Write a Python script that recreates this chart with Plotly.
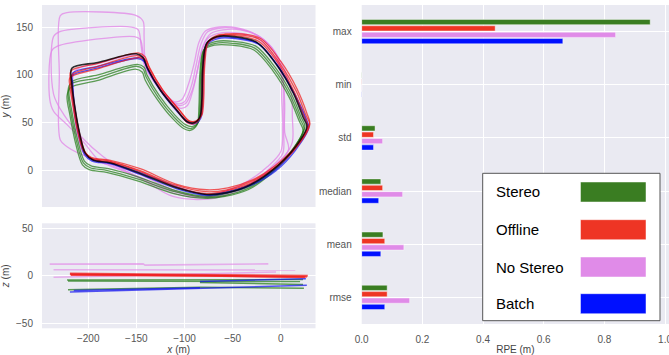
import plotly.graph_objects as go

W, H = 669, 355

# ---------------- trajectory data (x, y in metres), one list per lap ----------------
black_x = [[-217, -190, -150, -143, -139, -125, -108, -97, -90, -84, -82, -81, -77, -66, -49, -25, -4, 13, 23, 27, 13, -8, -32, -56, -77, -108, -146, -177, -195, -203, -209, -214, -217, -217]]
black_y = [[107, 113, 122, 118, 108, 84, 63, 51, 50, 56, 74, 108, 133, 140, 140, 134, 110, 81, 56, 46, 22, 1, -15, -23, -25, -18, -3, 8, 11, 18, 39, 67, 91, 107]]

red_x = [
    [-218, -190, -148, -141, -137, -123, -106, -96, -89, -83, -81, -80, -76, -64, -47, -22, -1, 16, 26, 30, 16, -5, -30, -56, -78, -110, -146, -178, -197, -204, -210, -215, -218, -218],
    [-217, -190, -149, -142, -138, -124, -107, -97, -90, -84, -82, -81, -77, -65, -48, -23, -2, 14, 24, 28, 14, -7, -31, -56, -77, -109, -146, -177, -196, -203, -209, -214, -217, -217],
    [-219, -191, -147, -140, -136, -122, -105, -95, -88, -82, -80, -79, -75, -64, -46, -21, 0, 17, 27, 30, 15, -6, -30, -55, -77, -109, -146, -178, -197, -205, -211, -216, -219, -219],
]
red_y = [
    [104, 112, 123, 119, 109, 85, 64, 52, 51, 57, 75, 109, 134, 142, 142, 137, 112, 83, 58, 48, 24, 4, -11, -20, -22, -15, 0, 10, 13, 20, 40, 67, 90, 104],
    [100, 109, 120, 117, 107, 83, 62, 50, 49, 55, 73, 107, 132, 140, 141, 135, 111, 82, 57, 47, 22, 2, -13, -21, -24, -17, -1, 9, 12, 19, 39, 66, 88, 100],
    [97, 106, 118, 115, 106, 83, 63, 52, 52, 58, 76, 110, 135, 141, 143, 138, 114, 85, 60, 49, 25, 5, -10, -18, -20, -14, 2, 11, 14, 21, 41, 68, 88, 97],
]

blue_x = [
    [-216, -190, -148, -142, -138, -124, -107, -97, -90, -84, -82, -81, -77, -66, -48, -24, -3, 14, 25, 28, 14, -6, -31, -56, -77, -108, -146, -177, -195, -203, -209, -214, -216, -216],
    [-217, -191, -149, -142, -138, -124, -107, -96, -89, -83, -81, -80, -76, -65, -48, -23, -2, 15, 26, 29, 15, -5, -30, -55, -76, -108, -146, -177, -196, -204, -210, -215, -217, -217],
]
blue_y = [
    [102, 109, 118, 115, 106, 83, 62, 51, 50, 56, 74, 108, 133, 139, 139, 133, 109, 80, 55, 46, 22, 1, -14, -22, -25, -17, -2, 8, 11, 18, 38, 66, 90, 102],
    [99, 107, 117, 114, 105, 82, 61, 50, 49, 55, 73, 107, 132, 138, 138, 132, 108, 79, 55, 45, 21, 0, -15, -23, -26, -19, -4, 7, 10, 17, 37, 65, 88, 99],
]

green_x = [
    [-219, -190, -150, -143, -140, -127, -111, -100, -93, -86, -84, -83, -79, -68, -50, -27, -7, 10, 20, 24, 11, -9, -33, -58, -78, -110, -148, -180, -198, -205, -212, -218, -221, -219],
    [-218, -191, -151, -144, -141, -128, -112, -101, -94, -87, -85, -84, -80, -69, -51, -28, -8, 9, 19, 23, 10, -10, -34, -58, -78, -111, -148, -180, -199, -206, -213, -219, -222, -218],
    [-217, -190, -149, -142, -139, -126, -110, -99, -92, -85, -83, -82, -78, -67, -49, -26, -6, 11, 21, 25, 12, -8, -32, -57, -77, -109, -147, -179, -197, -204, -211, -217, -220, -217],
]
green_y = [
    [90, 97, 109, 106, 98, 76, 56, 46, 44, 50, 70, 105, 128, 133, 133, 128, 106, 78, 54, 44, 20, -1, -18, -26, -28, -22, -9, 0, 3, 8, 30, 60, 80, 90],
    [87, 94, 106, 103, 95, 74, 54, 44, 42, 48, 68, 103, 126, 131, 131, 126, 104, 76, 52, 42, 18, -3, -20, -27, -29, -24, -11, -2, 1, 6, 28, 58, 78, 87],
    [93, 100, 111, 108, 100, 78, 58, 48, 46, 52, 72, 107, 130, 135, 135, 130, 108, 80, 56, 46, 22, 1, -16, -24, -27, -21, -7, 2, 5, 10, 32, 62, 82, 93],
]

violet_x = [
    [-214, -190, -150, -143, -139, -127, -114, -106, -99, -92, -87, -82, -76, -66, -48, -24, -6, 2, 4, 4, 8, -8, -32, -57, -80, -110, -146, -178, -198, -206, -212, -215, -214],
    [-240, -238, -232, -152, -146, -143, -141, -128, -114, -104, -97, -91, -86, -81, -73, -60, -42, -22, -5, 6, 11, 12, 12, 4, -10, -32, -56, -78, -110, -146, -170, -188, -205, -222, -236, -240],
    [-236, -236, -230, -155, -148, -145, -142, -130, -116, -108, -100, -93, -88, -83, -76, -62, -44, -24, -6, 2, 3, 3, 2, -12, -34, -58, -80, -112, -146, -165, -185, -205, -225, -236],
    [-229, -230, -229, -222, -150, -143, -142, -141, -133, -120, -111, -103, -96, -90, -85, -78, -64, -45, -26, -8, 0, 1, 2, 0, -14, -36, -60, -84, -112, -146, -180, -200, -222, -229],
]
violet_y = [
    [104, 112, 121, 118, 108, 88, 73, 68, 70, 84, 103, 125, 138, 143, 144, 138, 118, 95, 70, 40, 22, 4, -14, -24, -28, -22, -7, 6, 12, 20, 42, 72, 104],
    [75, 125, 130, 140, 137, 122, 108, 88, 72, 65, 68, 85, 108, 130, 143, 147, 147, 140, 122, 100, 80, 55, 30, 15, 2, -14, -24, -28, -24, -8, 2, 10, 30, 48, 62, 75],
    [80, 140, 145, 150, 147, 130, 112, 92, 76, 70, 72, 88, 110, 132, 145, 149, 148, 141, 124, 100, 70, 40, 18, 2, -16, -26, -30, -27, -8, 2, 15, 33, 58, 80],
    [32, 100, 162, 165, 162, 156, 140, 118, 98, 80, 72, 74, 90, 112, 134, 146, 150, 149, 142, 126, 104, 75, 45, 20, 4, -12, -22, -27, -20, -4, 8, 14, 25, 32],
]

# ---------------- height profile (x, z in metres), one list per segment ----------------
violet_zx = [[-240, -143, -141, -13], [-236, -100, 15], [-236, -150, -80, -5]]
violet_z = [[12.2, 12.5, 11.2, 12.5], [6.3, 6.5, 6.0], [-1.5, 0, 2, 4]]
red_zx = [[-219, -100, 28], [-219, -90, 27], [-218, -80, 25]]
red_z = [[2.5, 1.5, 0], [1.5, 0.5, -1], [0.8, 0, -1.5]]
green_zx = [[-222, -84, 23], [-221, -84, 24], [-84, 23], [-221, 20]]
green_z = [[-4.5, -4.5, -4], [-14.5, -12, -13], [-7, -9], [-5.5, -6]]
blue_zx = [[-219, -84, 27], [-84, 26], [-215, -84]]
blue_z = [[-17, -13, -10], [-6, -3], [-15.5, -12.5]]

# ---------------- RPE statistics ----------------
metrics = ["max", "min", "std", "median", "mean", "rmse"]
stereo = [0.951, 0.001, 0.044, 0.063, 0.070, 0.084]
offline = [0.440, 0.001, 0.039, 0.069, 0.076, 0.084]
no_stereo = [0.837, 0.001, 0.069, 0.135, 0.139, 0.158]
batch = [0.663, 0.001, 0.039, 0.056, 0.063, 0.076]
series_names = ["Stereo", "Offline", "No Stereo", "Batch"]

bar_colors = ["#3a7d22", "#ee3524", "#e08be8", "#0010ff"]
line_colors = {"violet": "#e285e8", "green": "#1f7a12", "blue": "#1010f0",
               "red": "#f01818", "black": "#000000"}

fig = go.Figure()


def add_laps(xs, ys, color, xa, ya, opacity=0.7, width=1.3, shape="spline"):
    for lx, ly in zip(xs, ys):
        fig.add_trace(go.Scatter(x=lx, y=ly, mode="lines", xaxis=xa, yaxis=ya,
                                 line=dict(color=color, width=width, shape=shape, smoothing=0.9),
                                 opacity=opacity, showlegend=False, hoverinfo="skip"))


add_laps(violet_x, violet_y, line_colors["violet"], "x", "y", 0.75)
add_laps(green_x, green_y, line_colors["green"], "x", "y", 0.7)
add_laps(blue_x, blue_y, line_colors["blue"], "x", "y", 0.7)
add_laps(red_x, red_y, line_colors["red"], "x", "y", 0.7)
add_laps(black_x, black_y, line_colors["black"], "x", "y", 0.8, 1.6)

add_laps(violet_zx, violet_z, line_colors["violet"], "x2", "y2", 0.6, 1.6, "linear")
add_laps(red_zx, red_z, line_colors["red"], "x2", "y2", 0.7, 2.0, "linear")
add_laps(green_zx, green_z, line_colors["green"], "x2", "y2", 0.7, 1.5, "linear")
add_laps(blue_zx, blue_z, line_colors["blue"], "x2", "y2", 0.7, 1.5, "linear")

for name, vals, col in zip(series_names, [stereo, offline, no_stereo, batch], bar_colors):
    fig.add_trace(go.Bar(x=vals, y=metrics, orientation="h", name=name, xaxis="x3", yaxis="y3",
                         marker=dict(color=col, line=dict(color="rgba(255,255,255,0.55)", width=0.8)),
                         showlegend=False))

font = "Liberation Sans, Arial, sans-serif"
tick_font = dict(family=font, size=10, color="#555555")
title_font = dict(family=font, size=10, color="#444444")
common = dict(showline=False, zeroline=False, gridcolor="white", gridwidth=1, automargin=False,
              ticks="outside", tickcolor="rgba(0,0,0,0)", tickfont=tick_font,
              ticklabeloverflow="allow")

left_dom = [42 / W, 315.5 / W]
fig.update_layout(
    width=W, height=H, margin=dict(l=0, r=0, t=0, b=0),
    paper_bgcolor="white", plot_bgcolor="#eaeaf2",
    barmode="group", bargap=0.52, bargroupgap=0.18,
    xaxis=dict(domain=left_dom, range=[-248, 36], anchor="y", showticklabels=False,
               tickvals=[-200, -150, -100, -50, 0], ticklen=0, **{k: v for k, v in common.items() if k != "ticks"}),
    yaxis=dict(domain=[1 - 207 / H, 1 - 5 / H], range=[-38, 173], anchor="x",
               tickvals=[0, 50, 100, 150], ticklen=6,
               title=dict(text="<i>y</i> (m)", font=title_font, standoff=8), **common),
    xaxis2=dict(domain=left_dom, range=[-248, 36], anchor="y2",
                tickvals=[-200, -150, -100, -50, 0], ticktext=["\u2212200", "\u2212150", "\u2212100", "\u221250", "0"],
                ticklen=1, title=dict(text="<i>x</i> (m)", font=title_font, standoff=6), **common),
    yaxis2=dict(domain=[1 - 328.3 / H, 1 - 223.3 / H], range=[-55, 55], anchor="x2",
                tickvals=[-50, 0, 50], ticktext=["\u221250", "0", "50"], ticklen=6,
                title=dict(text="<i>z</i> (m)", font=title_font, standoff=8), **common),
    xaxis3=dict(domain=[361.7 / W, 1.0], range=[0, 1.013], anchor="y3",
                tickvals=[0, 0.2, 0.4, 0.6, 0.8, 1.0], ticktext=["0.0", "0.2", "0.4", "0.6", "0.8", "1.0"],
                ticklen=6, title=dict(text="RPE (m)", font=title_font, standoff=5), **common),
    yaxis3=dict(domain=[1 - 324 / H, 1 - 5 / H], anchor="x3", type="category",
                categoryorder="array", categoryarray=metrics, autorange="reversed",
                ticklen=7, **common),
)

# ---------------- manual legend (large swatches, as in the reference) ----------------
box = dict(x0=482.7, x1=660, y0=173.3, y1=320.7)
shapes = [dict(type="rect", xref="paper", yref="paper", layer="above",
               x0=box["x0"] / W, x1=box["x1"] / W, y0=1 - box["y1"] / H, y1=1 - box["y0"] / H,
               fillcolor="white", line=dict(color="#555555", width=1))]
annotations = []
row_centers = [192, 229.7, 267, 303.7]
for name, col, cy in zip(series_names, bar_colors, row_centers):
    shapes.append(dict(type="rect", xref="paper", yref="paper", layer="above",
                       x0=580.5 / W, x1=646 / W, y0=1 - (cy + 10) / H, y1=1 - (cy - 10) / H,
                       fillcolor=col, line=dict(color="rgba(255,255,255,0.6)", width=0.8)))
    annotations.append(dict(text=name, xref="paper", yref="paper", x=494 / W, y=1 - cy / H,
                            xanchor="left", yanchor="middle", showarrow=False,
                            font=dict(family=font, size=15, color="black")))
fig.update_layout(shapes=shapes, annotations=annotations)

fig.write_html("out.html", config={"displayModeBar": False},
               post_script="document.body.style.margin='0';document.body.style.overflow='hidden';")
